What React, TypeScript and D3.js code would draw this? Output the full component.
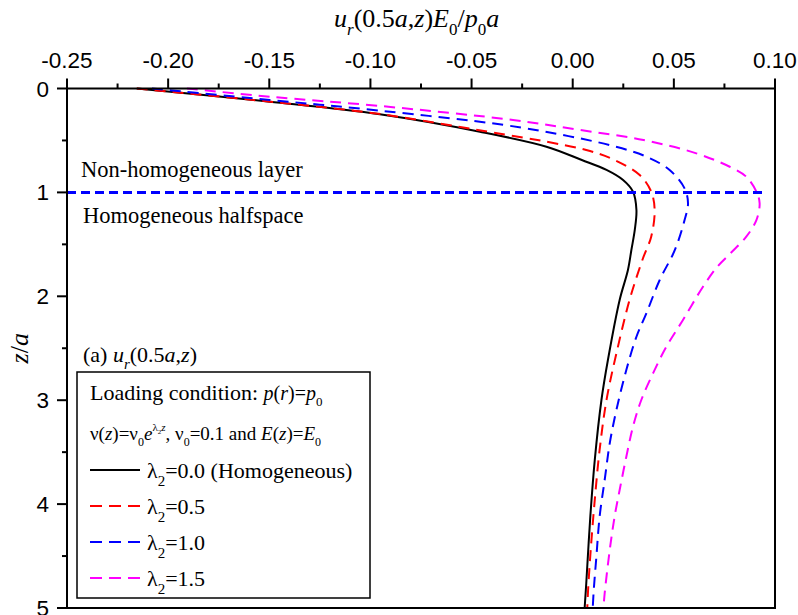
import React, { useRef, useEffect } from "react";
import * as d3 from "d3";

// top axis: u_r(0.5a,z)E0/p0a
const xTicks = [-0.25, -0.2, -0.15, -0.1, -0.05, 0, 0.05, 0.1];
const xMinor = [-0.225, -0.175, -0.125, -0.075, -0.025, 0.025, 0.075];
// left axis: z/a
const zTicks = [0, 1, 2, 3, 4, 5];
const zMinor = [0.5, 1.5, 2.5, 3.5, 4.5];

// lambda2 = 0.0 (homogeneous)
const zL00 = [0, 0.127, 0.248, 0.416, 0.56, 0.688, 0.784, 0.881, 0.993, 1.169, 1.359, 1.554, 1.747, 2.035, 2.613, 2.998, 3.576, 4.121, 4.762, 5.0];
const uL00 = [-0.2155, -0.1497, -0.0954, -0.0459, -0.013, 0.0045, 0.0167, 0.0249, 0.0298, 0.0315, 0.0307, 0.029, 0.0273, 0.0232, 0.0174, 0.0142, 0.0109, 0.0087, 0.0067, 0.0059];
// lambda2 = 0.5
const zL05 = [0, 0.127, 0.248, 0.416, 0.512, 0.592, 0.681, 0.833, 0.993, 1.169, 1.426, 1.636, 2.035, 2.549, 2.998, 3.479, 3.96, 4.44, 4.827, 5.0];
const uL05 = [-0.2155, -0.1495, -0.0945, -0.042, -0.013, 0.0067, 0.0199, 0.0331, 0.0388, 0.0405, 0.0388, 0.0347, 0.0281, 0.0216, 0.0167, 0.0133, 0.0109, 0.0089, 0.0076, 0.0072];
// lambda2 = 1.0
const zL10 = [0, 0.11, 0.213, 0.351, 0.448, 0.553, 0.656, 0.784, 0.961, 1.105, 1.266, 1.554, 1.843, 2.164, 2.389, 2.709, 3.094, 3.415, 3.768, 4.121, 4.506, 4.827, 5.0];
const uL10 = [-0.208, -0.1497, -0.0954, -0.034, -0.0048, 0.0199, 0.0364, 0.0479, 0.0553, 0.057, 0.0553, 0.0505, 0.043, 0.0364, 0.0315, 0.0265, 0.0216, 0.0183, 0.0158, 0.0133, 0.0117, 0.0104, 0.0099];
// lambda2 = 1.5
const zL15 = [0, 0.079, 0.168, 0.303, 0.399, 0.496, 0.624, 0.753, 0.849, 0.993, 1.105, 1.266, 1.426, 1.586, 1.715, 1.908, 2.228, 2.485, 2.741, 2.998, 3.255, 3.544, 3.864, 4.121, 4.442, 4.858, 5.0];
const uL15 = [-0.1907, -0.1497, -0.0954, -0.0295, 0.0035, 0.035, 0.0611, 0.0776, 0.0858, 0.0908, 0.0924, 0.0908, 0.0858, 0.078, 0.0715, 0.0644, 0.0545, 0.0463, 0.0397, 0.0339, 0.0298, 0.0265, 0.0232, 0.0207, 0.0183, 0.0158, 0.0152];

const lambdaLabels = ["0.0 (Homogeneous)", "0.5", "1.0", "1.5"];
const interfaceDepth = 1;

const SERIF = "'Liberation Serif', 'Times New Roman', serif";
const SANS = "'Liberation Sans', Arial, sans-serif";

type Part = { t: string; i?: boolean; dy?: number; fs?: number };

// text with italic / sub / superscript pieces
function rich(g: any, x: number, y: number, size: number, parts: Part[]) {
  const t = g.append("text").attr("x", x).attr("y", y)
    .attr("font-family", SERIF).style("font-size", size + "px");
  let shift = 0;
  parts.forEach((p) => {
    const target = p.dy || 0;
    const s = t.append("tspan").attr("dy", target - shift).text(p.t);
    shift = target;
    if (p.i) s.style("font-style", "italic");
    if (p.fs) s.style("font-size", p.fs + "px");
  });
  return t;
}

function App() {
  const svgRef = useRef(null);

  useEffect(() => {
    const width = 798;
    const height = 615;
    const margin = { top: 88.5, right: 23, bottom: 7, left: 67 };

    const svg = d3.select(svgRef.current);
    svg.selectAll("*").remove();
    svg.attr("width", width).attr("height", height);

    const x = d3.scaleLinear().domain([-0.25, 0.1]).range([margin.left, width - margin.right]);
    const y = d3.scaleLinear().domain([0, 5]).range([margin.top, height - margin.bottom]);

    const series = [
      { u: uL00, z: zL00, color: "#000000", dash: null },
      { u: uL05, z: zL05, color: "#ff0000", dash: "11,7" },
      { u: uL10, z: zL10, color: "#0000ff", dash: "11,7" },
      { u: uL15, z: zL15, color: "#ff00ff", dash: "11,7" },
    ];

    const line = d3.line<number[]>()
      .x((d) => x(d[0]))
      .y((d) => y(d[1]))
      .curve(d3.curveCatmullRom.alpha(0.5));

    series.forEach((s) => {
      const pts = s.u.map((u, i) => [u, s.z[i]]);
      svg.append("path")
        .attr("d", line(pts))
        .attr("fill", "none")
        .attr("stroke", s.color)
        .attr("stroke-width", 2)
        .attr("stroke-dasharray", s.dash);
    });

    // layer interface
    svg.append("line")
      .attr("x1", x(-0.25)).attr("x2", x(0.096))
      .attr("y1", y(interfaceDepth)).attr("y2", y(interfaceDepth))
      .attr("stroke", "#0000ff").attr("stroke-width", 3)
      .attr("stroke-dasharray", "9,5");

    // frame
    const [x0, x1] = x.range();
    const [y0, y1] = y.range();
    svg.append("rect")
      .attr("x", x0).attr("y", y0).attr("width", x1 - x0).attr("height", y1 - y0)
      .attr("fill", "none").attr("stroke", "#000").attr("stroke-width", 2);

    // ticks (outward on top and left)
    const ax = svg.append("g").attr("stroke", "#000").attr("stroke-width", 2);
    xTicks.forEach((v) => ax.append("line").attr("x1", x(v)).attr("x2", x(v)).attr("y1", y0).attr("y2", y0 - 10));
    xMinor.forEach((v) => ax.append("line").attr("x1", x(v)).attr("x2", x(v)).attr("y1", y0).attr("y2", y0 - 5));
    zTicks.forEach((v) => ax.append("line").attr("x1", x0).attr("x2", x0 - 10).attr("y1", y(v)).attr("y2", y(v)));
    zMinor.forEach((v) => ax.append("line").attr("x1", x0).attr("x2", x0 - 5).attr("y1", y(v)).attr("y2", y(v)));

    svg.append("g").selectAll("text").data(xTicks).enter().append("text")
      .attr("x", (d) => x(d)).attr("y", y0 - 21)
      .attr("text-anchor", "middle")
      .attr("font-family", SANS).style("font-size", "22.5px")
      .text((d) => d.toFixed(2));

    svg.append("g").selectAll("text").data(zTicks).enter().append("text")
      .attr("x", x0 - 18).attr("y", (d) => y(d) + 8)
      .attr("text-anchor", "end")
      .attr("font-family", SANS).style("font-size", "22.5px")
      .text((d) => String(d));

    // axis titles
    rich(svg, 334, 27, 26, [
      { t: "u", i: true }, { t: "r", i: true, dy: 8, fs: 17 }, { t: "(0.5" },
      { t: "a", i: true }, { t: "," }, { t: "z", i: true }, { t: ")" },
      { t: "E", i: true }, { t: "0", dy: 8, fs: 17 }, { t: "/" },
      { t: "p", i: true }, { t: "0", dy: 8, fs: 17 }, { t: "a", i: true },
    ]);
    rich(svg, 0, 0, 26, [{ t: "z", i: true }, { t: "/" }, { t: "a", i: true }])
      .attr("text-anchor", "middle")
      .attr("transform", `translate(28,${(y0 + y1) / 2}) rotate(-90)`);

    // layer annotations
    rich(svg, 81, 177, 22.5, [{ t: "Non-homogeneous layer" }]);
    rich(svg, 83, 223, 22.5, [{ t: "Homogeneous halfspace" }]);

    // panel caption
    rich(svg, 83, 362, 22, [
      { t: "(a) " }, { t: "u", i: true }, { t: "r", i: true, dy: 7, fs: 15 },
      { t: "(0.5" }, { t: "a", i: true }, { t: "," }, { t: "z", i: true }, { t: ")" },
    ]);

    // legend
    svg.append("rect")
      .attr("x", 77).attr("y", 372).attr("width", 293).attr("height", 226)
      .attr("fill", "#fff").attr("stroke", "#000").attr("stroke-width", 1.5);

    rich(svg, 90, 400, 22, [
      { t: "Loading condition: " },
      { t: "p", i: true, fs: 20 }, { t: "(", fs: 20 }, { t: "r", i: true, fs: 20 },
      { t: ")=", fs: 20 }, { t: "p", i: true, fs: 20 }, { t: "0", dy: 6, fs: 13 },
    ]);
    rich(svg, 90, 440, 19, [
      { t: "ν(" }, { t: "z", i: true }, { t: ")=ν" }, { t: "0", dy: 6, fs: 12 },
      { t: "e", i: true }, { t: "λ", dy: -9, fs: 11 }, { t: "2", dy: -6, fs: 7 },
      { t: "z", i: true, dy: -9, fs: 11 }, { t: ", ν" }, { t: "0", dy: 6, fs: 12 },
      { t: "=0.1 and " }, { t: "E", i: true }, { t: "(" }, { t: "z", i: true },
      { t: ")=" }, { t: "E", i: true }, { t: "0", dy: 6, fs: 12 },
    ]);

    series.forEach((s, i) => {
      const ly = 470 + i * 36;
      svg.append("line")
        .attr("x1", 90).attr("x2", 140).attr("y1", ly).attr("y2", ly)
        .attr("stroke", s.color).attr("stroke-width", 2)
        .attr("stroke-dasharray", s.dash ? "12,7" : null);
      rich(svg, 147, ly + 8, 22, [
        { t: "λ" }, { t: "2", dy: 8, fs: 15 }, { t: "=" + lambdaLabels[i] },
      ]);
    });
  }, []);

  return (
    <svg ref={svgRef} style={{ position: "absolute", left: 0, top: 0, background: "#fff" }}></svg>
  );
}

export default App;
